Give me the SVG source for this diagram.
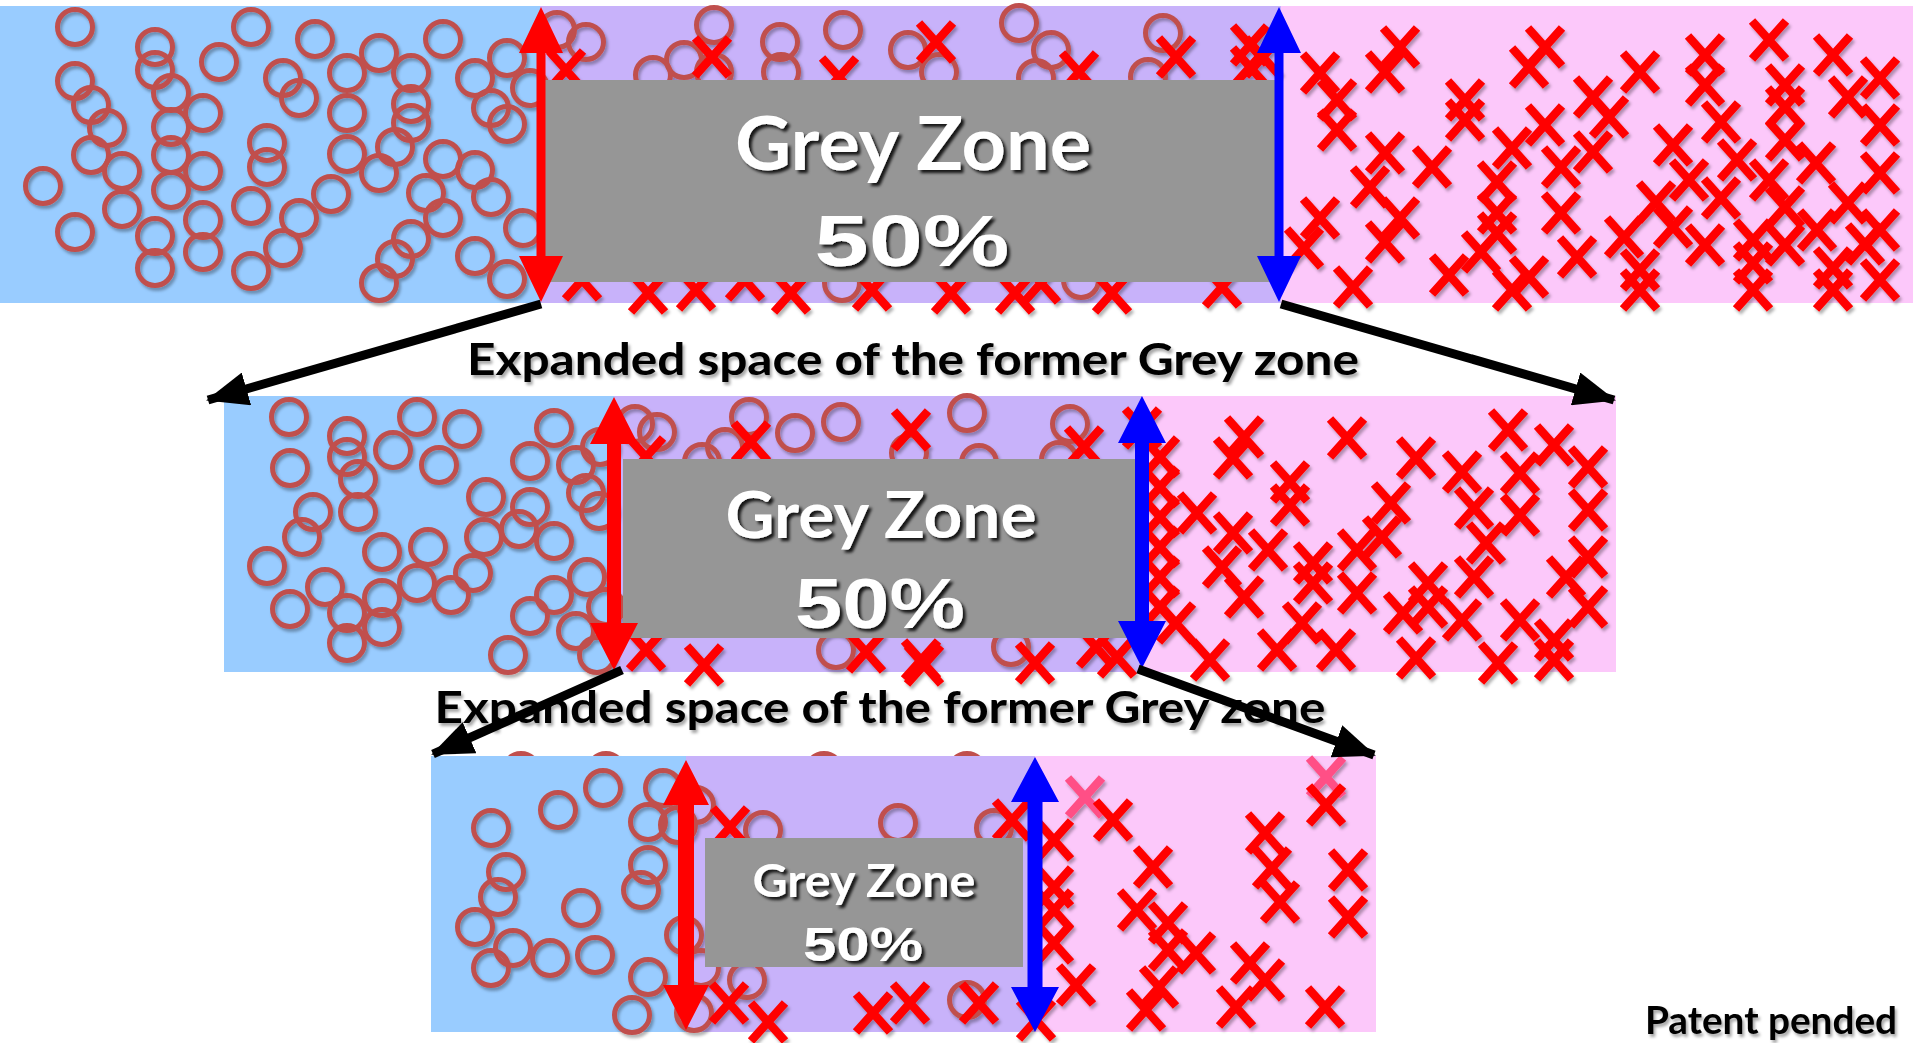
<svg xmlns="http://www.w3.org/2000/svg" width="1913" height="1043" viewBox="0 0 1913 1043">
<style>
.bl{fill:#99CCFF}.pu{fill:#C8B2FA}.pk{fill:#FCC8FA}
.box{fill:#969696}
.gz{font-family:Lato,"Liberation Sans",sans-serif;font-weight:bold;fill:#fff;text-anchor:middle}
.pc{font-family:"Liberation Sans",Arial,sans-serif;font-weight:bold;fill:#fff;text-anchor:middle}
.lbl{font-family:Lato,"Liberation Sans",sans-serif;font-weight:bold;fill:#000;text-anchor:middle}
.red{fill:#FF0000}.blue{fill:#0000FF}
.conn line{stroke:#000;stroke-width:9;marker-end:url(#ah)}
</style>
<defs>
<circle id="o" cx="0" cy="0" r="17.5" fill="none" stroke="#C0504D" stroke-width="5"/>
<path id="x" d="M-17,-19L17,19M17,-19L-17,19" fill="none" stroke="#FF0000" stroke-width="8.5"/>
<path id="xf" d="M-17,-19L17,19M17,-19L-17,19" fill="none" stroke="#FF4F86" stroke-width="8.5"/>
<filter id="sh" x="-5%" y="-5%" width="110%" height="110%"><feDropShadow dx="2" dy="3" stdDeviation="1.5" flood-color="#000" flood-opacity="0.3"/></filter>
<filter id="ts" x="-10%" y="-10%" width="120%" height="130%"><feDropShadow dx="3" dy="3" stdDeviation="1.5" flood-color="#000" flood-opacity="0.85"/></filter>
<filter id="ls" x="-5%" y="-10%" width="110%" height="130%"><feDropShadow dx="2" dy="3" stdDeviation="1.5" flood-color="#000" flood-opacity="0.35"/></filter>
<marker id="ah" markerUnits="userSpaceOnUse" markerWidth="42" markerHeight="34" refX="40" refY="17" orient="auto"><path d="M0,0L42,17L0,34z" fill="#000"/></marker>
</defs>

<g id="panel1">
<rect class="bl" x="0" y="6" width="540" height="297"/>
<rect class="pu" x="540" y="6" width="741" height="297"/>
<rect class="pk" x="1281" y="6" width="632" height="297"/>
<g filter="url(#sh)">
<use href="#o" x="75" y="27"/><use href="#o" x="155" y="47"/><use href="#o" x="155" y="70"/><use href="#o" x="75" y="81"/><use href="#o" x="91" y="105"/><use href="#o" x="107" y="128"/><use href="#o" x="91" y="155"/><use href="#o" x="43" y="186"/><use href="#o" x="75" y="232"/><use href="#o" x="122" y="171"/><use href="#o" x="122" y="209"/><use href="#o" x="171" y="93"/><use href="#o" x="171" y="127"/><use href="#o" x="171" y="155"/><use href="#o" x="171" y="190"/><use href="#o" x="203" y="113"/><use href="#o" x="203" y="171"/><use href="#o" x="203" y="220"/><use href="#o" x="203" y="252"/><use href="#o" x="155" y="236"/><use href="#o" x="155" y="268"/><use href="#o" x="219" y="62"/><use href="#o" x="251" y="27"/><use href="#o" x="283" y="78"/><use href="#o" x="299" y="98"/><use href="#o" x="315" y="39"/><use href="#o" x="347" y="73"/><use href="#o" x="347" y="113"/><use href="#o" x="347" y="154"/><use href="#o" x="379" y="53"/><use href="#o" x="411" y="73"/><use href="#o" x="411" y="104"/><use href="#o" x="411" y="123"/><use href="#o" x="395" y="147"/><use href="#o" x="379" y="173"/><use href="#o" x="443" y="39"/><use href="#o" x="443" y="159"/><use href="#o" x="475" y="78"/><use href="#o" x="491" y="108"/><use href="#o" x="507" y="58"/><use href="#o" x="507" y="124"/><use href="#o" x="475" y="170"/><use href="#o" x="491" y="197"/><use href="#o" x="426" y="193"/><use href="#o" x="443" y="218"/><use href="#o" x="411" y="239"/><use href="#o" x="395" y="259"/><use href="#o" x="379" y="283"/><use href="#o" x="475" y="256"/><use href="#o" x="507" y="279"/><use href="#o" x="523" y="228"/><use href="#o" x="530" y="88"/><use href="#o" x="267" y="143"/><use href="#o" x="267" y="167"/><use href="#o" x="251" y="206"/><use href="#o" x="299" y="218"/><use href="#o" x="283" y="248"/><use href="#o" x="251" y="271"/><use href="#o" x="331" y="194"/>
<use href="#o" x="557" y="30"/><use href="#o" x="586" y="42"/><use href="#o" x="714" y="25"/><use href="#o" x="684" y="60"/><use href="#o" x="780" y="42"/><use href="#o" x="843" y="30"/><use href="#o" x="908" y="50"/><use href="#o" x="939" y="72"/><use href="#o" x="1019" y="23"/><use href="#o" x="1051" y="50"/><use href="#o" x="1036" y="78"/><use href="#o" x="1163" y="33"/><use href="#o" x="1148" y="77"/><use href="#o" x="781" y="72"/><use href="#o" x="653" y="75"/><use href="#o" x="714" y="72"/><use href="#o" x="842" y="283"/><use href="#o" x="1081" y="280"/>
<use href="#x" x="712" y="57"/><use href="#x" x="936" y="42"/><use href="#x" x="1079" y="72"/><use href="#x" x="1176" y="57"/><use href="#x" x="1250" y="45"/><use href="#x" x="1250" y="67"/><use href="#x" x="566" y="70"/><use href="#x" x="839" y="77"/><use href="#x" x="1263" y="57"/>
<use href="#x" x="648" y="293"/><use href="#x" x="696" y="290"/><use href="#x" x="791" y="293"/><use href="#x" x="872" y="290"/><use href="#x" x="951" y="293"/><use href="#x" x="1015" y="293"/><use href="#x" x="1112" y="293"/><use href="#x" x="1222" y="287"/><use href="#x" x="1041" y="283"/><use href="#x" x="582" y="280"/><use href="#x" x="745" y="280"/>
<use href="#x" x="1400" y="47"/><use href="#x" x="1320" y="73"/><use href="#x" x="1385" y="72"/><use href="#x" x="1337" y="100"/><use href="#x" x="1337" y="130"/><use href="#x" x="1545" y="47"/><use href="#x" x="1529" y="67"/><use href="#x" x="1640" y="72"/><use href="#x" x="1705" y="55"/><use href="#x" x="1705" y="85"/><use href="#x" x="1769" y="40"/><use href="#x" x="1833" y="55"/><use href="#x" x="1880" y="78"/><use href="#x" x="1785" y="85"/><use href="#x" x="1785" y="107"/><use href="#x" x="1848" y="97"/><use href="#x" x="1593" y="97"/><use href="#x" x="1609" y="117"/><use href="#x" x="1465" y="100"/><use href="#x" x="1465" y="120"/><use href="#x" x="1545" y="125"/><use href="#x" x="1721" y="122"/><use href="#x" x="1673" y="145"/><use href="#x" x="1785" y="140"/><use href="#x" x="1880" y="125"/><use href="#x" x="1385" y="153"/><use href="#x" x="1432" y="167"/><use href="#x" x="1512" y="148"/><use href="#x" x="1593" y="152"/><use href="#x" x="1561" y="167"/><use href="#x" x="1737" y="160"/><use href="#x" x="1816" y="163"/><use href="#x" x="1880" y="173"/><use href="#x" x="1370" y="187"/><use href="#x" x="1497" y="182"/><use href="#x" x="1689" y="180"/><use href="#x" x="1769" y="180"/><use href="#x" x="1721" y="198"/><use href="#x" x="1656" y="202"/><use href="#x" x="1561" y="213"/><use href="#x" x="1497" y="213"/><use href="#x" x="1785" y="207"/><use href="#x" x="1848" y="203"/><use href="#x" x="1320" y="218"/><use href="#x" x="1400" y="218"/><use href="#x" x="1385" y="242"/><use href="#x" x="1304" y="248"/><use href="#x" x="1624" y="237"/><use href="#x" x="1673" y="227"/><use href="#x" x="1705" y="245"/><use href="#x" x="1753" y="240"/><use href="#x" x="1817" y="230"/><use href="#x" x="1880" y="230"/><use href="#x" x="1785" y="245"/><use href="#x" x="1481" y="252"/><use href="#x" x="1497" y="233"/><use href="#x" x="1577" y="257"/><use href="#x" x="1353" y="287"/><use href="#x" x="1449" y="275"/><use href="#x" x="1529" y="277"/><use href="#x" x="1512" y="290"/><use href="#x" x="1640" y="270"/><use href="#x" x="1640" y="290"/><use href="#x" x="1753" y="263"/><use href="#x" x="1753" y="290"/><use href="#x" x="1833" y="268"/><use href="#x" x="1833" y="290"/><use href="#x" x="1865" y="244"/><use href="#x" x="1880" y="280"/>
</g>
</g>
<g id="greyzone1">
<rect class="box" x="544" y="80" width="735" height="202"/>
<g filter="url(#ts)">
<text class="gz" x="913" y="170" font-size="75" textLength="356" lengthAdjust="spacingAndGlyphs">Grey Zone</text>
<text class="pc" x="912" y="266" font-size="72" textLength="195" lengthAdjust="spacingAndGlyphs">50%</text>
</g>
</g>
<g id="bounds1">
<polygon class="red" points="541,7 563,53 545.5,53 545.5,256 563,256 541,302 519,256 536.5,256 536.5,53 519,53"/>
<polygon class="blue" points="1279,7 1301,53 1283.5,53 1283.5,256 1301,256 1279,302 1257,256 1274.5,256 1274.5,53 1257,53"/>
</g>

<g id="panel2">
<rect class="bl" x="224" y="396" width="390" height="276"/>
<rect class="pu" x="614" y="396" width="528" height="276"/>
<rect class="pk" x="1142" y="396" width="474" height="276"/>
<g filter="url(#sh)">
<use href="#o" x="289" y="417"/><use href="#o" x="347" y="436"/><use href="#o" x="347" y="457"/><use href="#o" x="358" y="479"/><use href="#o" x="290" y="468"/><use href="#o" x="393" y="450"/><use href="#o" x="417" y="417"/><use href="#o" x="462" y="429"/><use href="#o" x="439" y="465"/><use href="#o" x="313" y="512"/><use href="#o" x="302" y="537"/><use href="#o" x="358" y="512"/><use href="#o" x="267" y="566"/><use href="#o" x="290" y="609"/><use href="#o" x="325" y="587"/><use href="#o" x="347" y="613"/><use href="#o" x="347" y="643"/><use href="#o" x="382" y="598"/><use href="#o" x="382" y="627"/><use href="#o" x="382" y="552"/><use href="#o" x="428" y="547"/><use href="#o" x="417" y="583"/><use href="#o" x="451" y="595"/><use href="#o" x="473" y="573"/><use href="#o" x="486" y="497"/><use href="#o" x="484" y="537"/><use href="#o" x="519" y="529"/><use href="#o" x="530" y="507"/><use href="#o" x="530" y="461"/><use href="#o" x="554" y="428"/><use href="#o" x="576" y="465"/><use href="#o" x="586" y="493"/><use href="#o" x="599" y="511"/><use href="#o" x="554" y="541"/><use href="#o" x="587" y="577"/><use href="#o" x="554" y="595"/><use href="#o" x="530" y="616"/><use href="#o" x="576" y="631"/><use href="#o" x="508" y="655"/><use href="#o" x="600" y="447"/><use href="#o" x="635" y="424"/><use href="#o" x="657" y="432"/><use href="#o" x="749" y="417"/><use href="#o" x="795" y="433"/><use href="#o" x="841" y="422"/><use href="#o" x="725" y="447"/><use href="#o" x="702" y="462"/><use href="#o" x="836" y="650"/><use href="#o" x="606" y="607"/><use href="#o" x="597" y="655"/><use href="#o" x="967" y="413"/><use href="#o" x="1070" y="424"/><use href="#o" x="909" y="453"/><use href="#o" x="979" y="463"/><use href="#o" x="1059" y="460"/><use href="#o" x="1011" y="647"/>
<use href="#x" x="646" y="457"/><use href="#x" x="751" y="442"/><use href="#x" x="911" y="430"/><use href="#x" x="1084" y="447"/><use href="#x" x="1142" y="428"/><use href="#x" x="646" y="650"/><use href="#x" x="704" y="665"/><use href="#x" x="866" y="652"/><use href="#x" x="921" y="660"/><use href="#x" x="1035" y="663"/><use href="#x" x="1117" y="657"/><use href="#x" x="1096" y="647"/><use href="#x" x="924" y="665"/>
<use href="#x" x="1244" y="437"/><use href="#x" x="1233" y="458"/><use href="#x" x="1347" y="438"/><use href="#x" x="1416" y="458"/><use href="#x" x="1290" y="482"/><use href="#x" x="1290" y="505"/><use href="#x" x="1197" y="513"/><use href="#x" x="1462" y="472"/><use href="#x" x="1508" y="430"/><use href="#x" x="1554" y="445"/><use href="#x" x="1520" y="473"/><use href="#x" x="1588" y="467"/><use href="#x" x="1391" y="503"/><use href="#x" x="1474" y="508"/><use href="#x" x="1520" y="515"/><use href="#x" x="1588" y="510"/><use href="#x" x="1233" y="533"/><use href="#x" x="1268" y="550"/><use href="#x" x="1382" y="537"/><use href="#x" x="1486" y="543"/><use href="#x" x="1222" y="567"/><use href="#x" x="1313" y="563"/><use href="#x" x="1357" y="550"/><use href="#x" x="1313" y="583"/><use href="#x" x="1474" y="577"/><use href="#x" x="1566" y="577"/><use href="#x" x="1588" y="557"/><use href="#x" x="1244" y="597"/><use href="#x" x="1357" y="593"/><use href="#x" x="1428" y="583"/><use href="#x" x="1428" y="607"/><use href="#x" x="1403" y="613"/><use href="#x" x="1176" y="623"/><use href="#x" x="1302" y="623"/><use href="#x" x="1462" y="620"/><use href="#x" x="1520" y="620"/><use href="#x" x="1588" y="607"/><use href="#x" x="1554" y="640"/><use href="#x" x="1210" y="660"/><use href="#x" x="1277" y="650"/><use href="#x" x="1336" y="650"/><use href="#x" x="1416" y="658"/><use href="#x" x="1498" y="663"/><use href="#x" x="1554" y="660"/><use href="#x" x="1160" y="457"/><use href="#x" x="1160" y="487"/><use href="#x" x="1160" y="517"/><use href="#x" x="1160" y="547"/><use href="#x" x="1160" y="577"/><use href="#x" x="1160" y="607"/>
</g>
</g>
<g id="greyzone2">
<rect class="box" x="623" y="459" width="513" height="179"/>
<g filter="url(#ts)">
<text class="gz" x="881" y="538" font-size="65" textLength="311" lengthAdjust="spacingAndGlyphs">Grey Zone</text>
<text class="pc" x="880" y="628" font-size="70" textLength="170" lengthAdjust="spacingAndGlyphs">50%</text>
</g>
</g>
<g id="bounds2">
<polygon class="red" points="614,397 638,444 621,444 621,623 638,623 614,670 590,623 607,623 607,444 590,444"/>
<polygon class="blue" points="1142,396 1166,443 1149,443 1149,621 1166,621 1142,668 1118,621 1135,621 1135,443 1118,443"/>
</g>

<g id="panel3">
<g filter="url(#sh)"><use href="#o" x="521" y="771"/><use href="#o" x="606" y="771"/><use href="#o" x="824" y="771"/><use href="#o" x="967" y="771"/></g>
<rect class="bl" x="431" y="756" width="255" height="276"/>
<rect class="pu" x="686" y="756" width="349" height="276"/>
<rect class="pk" x="1035" y="756" width="341" height="276"/>
<g filter="url(#sh)">
<use href="#o" x="491" y="828"/><use href="#o" x="558" y="810"/><use href="#o" x="603" y="788"/><use href="#o" x="663" y="788"/><use href="#o" x="648" y="822"/><use href="#o" x="678" y="825"/><use href="#o" x="696" y="805"/><use href="#o" x="506" y="872"/><use href="#o" x="498" y="897"/><use href="#o" x="648" y="865"/><use href="#o" x="641" y="890"/><use href="#o" x="581" y="908"/><use href="#o" x="475" y="927"/><use href="#o" x="513" y="948"/><use href="#o" x="491" y="968"/><use href="#o" x="550" y="958"/><use href="#o" x="595" y="955"/><use href="#o" x="648" y="977"/><use href="#o" x="632" y="1015"/><use href="#o" x="684" y="935"/><use href="#o" x="701" y="968"/><use href="#o" x="694" y="1013"/><use href="#o" x="747" y="980"/><use href="#o" x="763" y="830"/><use href="#o" x="898" y="823"/><use href="#o" x="994" y="828"/><use href="#o" x="967" y="1000"/>
<use href="#x" x="730" y="827"/><use href="#x" x="729" y="1003"/><use href="#x" x="768" y="1022"/><use href="#x" x="873" y="1013"/><use href="#x" x="910" y="1003"/><use href="#x" x="979" y="1003"/><use href="#x" x="1012" y="820"/><use href="#x" x="1036" y="1020"/>
<use href="#xf" x="1085" y="797"/><use href="#xf" x="1326" y="777"/>
<use href="#x" x="1326" y="805"/><use href="#x" x="1113" y="820"/><use href="#x" x="1054" y="840"/><use href="#x" x="1054" y="887"/><use href="#x" x="1054" y="910"/><use href="#x" x="1054" y="943"/><use href="#x" x="1076" y="985"/><use href="#x" x="1153" y="867"/><use href="#x" x="1137" y="910"/><use href="#x" x="1168" y="923"/><use href="#x" x="1168" y="950"/><use href="#x" x="1196" y="953"/><use href="#x" x="1159" y="987"/><use href="#x" x="1146" y="1010"/><use href="#x" x="1236" y="1007"/><use href="#x" x="1250" y="963"/><use href="#x" x="1265" y="980"/><use href="#x" x="1265" y="833"/><use href="#x" x="1272" y="868"/><use href="#x" x="1280" y="902"/><use href="#x" x="1348" y="870"/><use href="#x" x="1348" y="917"/><use href="#x" x="1325" y="1007"/>
</g>
</g>
<g id="greyzone3">
<rect class="box" x="705" y="838" width="318" height="129"/>
<g filter="url(#ts)">
<text class="gz" x="864" y="897" font-size="45" textLength="223" lengthAdjust="spacingAndGlyphs">Grey Zone</text>
<text class="pc" x="863" y="961" font-size="48" textLength="120" lengthAdjust="spacingAndGlyphs">50%</text>
</g>
</g>
<g id="bounds3">
<polygon class="red" points="686,760 709,805 694,805 694,985 709,985 686,1030 663,985 678,985 678,805 663,805"/>
<polygon class="blue" points="1035,757 1059,802 1042.5,802 1042.5,987 1059,987 1035,1032 1011,987 1027.5,987 1027.5,802 1011,802"/>
</g>

<g id="connectors" class="conn">
<line x1="541" y1="304" x2="208" y2="400"/>
<line x1="1281" y1="304" x2="1614" y2="400"/>
<line x1="622" y1="670" x2="433" y2="754"/>
<line x1="1138" y1="669" x2="1374" y2="755"/>
</g>

<g id="labels" filter="url(#ls)">
<text class="lbl" x="913" y="375" font-size="44" textLength="892" lengthAdjust="spacingAndGlyphs">Expanded space of the former Grey zone</text>
<text class="lbl" x="880" y="723" font-size="44" textLength="891" lengthAdjust="spacingAndGlyphs">Expanded space of the former Grey zone</text>
<text class="lbl" x="1645" y="1034" font-size="38" textLength="252" lengthAdjust="spacingAndGlyphs" style="text-anchor:start">Patent pended</text>
</g>
</svg>
